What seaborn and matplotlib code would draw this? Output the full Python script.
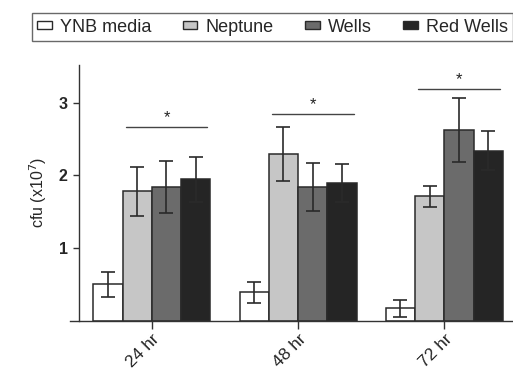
import numpy as np
import pandas as pd
import matplotlib
matplotlib.use("Agg")
import matplotlib.pyplot as plt
import seaborn as sns

times = ["24 hr", "48 hr", "72 hr"]
groups = ["YNB media", "Neptune", "Wells", "Red Wells"]
# mean cfu (x10^7) per group, one value per time point
ynb = [0.50, 0.39, 0.17]
neptune = [1.78, 2.29, 1.71]
wells = [1.84, 1.84, 2.62]
red_wells = [1.95, 1.90, 2.34]
# error bar half-lengths
ynb_err = [0.17, 0.14, 0.12]
neptune_err = [0.34, 0.37, 0.14]
wells_err = [0.36, 0.33, 0.44]
red_wells_err = [0.31, 0.26, 0.27]
# significance bar heights
sig_heights = [2.67, 2.85, 3.19]

colors = ["#ffffff", "#c6c6c6", "#6b6b6b", "#252525"]

sns.set_style("ticks")
plt.rcParams["font.family"] = ["Liberation Sans", "DejaVu Sans"]

means = [ynb, neptune, wells, red_wells]
errs = [ynb_err, neptune_err, wells_err, red_wells_err]
df = pd.DataFrame({
    "time": np.tile(times, len(groups)),
    "group": np.repeat(groups, len(times)),
    "cfu": np.concatenate(means),
})

fig = plt.figure(figsize=(5.13, 3.75), dpi=100)
ax = fig.add_axes([70 / 513, 1 - 320.7 / 375, 443 / 513, (320.7 - 65) / 375])

sns.barplot(data=df, x="time", y="cfu", hue="group", hue_order=groups,
            order=times, palette=colors, errorbar=None, width=0.8,
            edgecolor="#2a2a2a", linewidth=1.1, ax=ax)

for cont, err in zip(ax.containers, errs):
    xs = [p.get_x() + p.get_width() / 2 for p in cont.patches]
    ys = [p.get_height() for p in cont.patches]
    ax.errorbar(xs, ys, yerr=err, fmt="none", ecolor="#2a2a2a",
                elinewidth=1.2, capsize=5, capthick=1.2, zorder=3)

for i, h in enumerate(sig_heights):
    ax.plot([i - 0.18, i + 0.38], [h, h], color="#444444", lw=1.0)
    ax.text(i + 0.1, h + 0.02, "*", ha="center", va="bottom", fontsize=12,
            color="#222222")

ax.set_xlim(-0.56, 2.47)
ax.set_ylim(0, 3.52)
ax.spines["left"].set_position(("data", -0.5))
ax.spines["top"].set_visible(False)
ax.spines["right"].set_visible(False)
for s in ["left", "bottom"]:
    ax.spines[s].set_color("#333333")
    ax.spines[s].set_linewidth(1.0)

ax.set_yticks([1, 2, 3])
ax.set_yticklabels(["1", "2", "3"], fontsize=11.5, fontweight="bold")
ax.tick_params(axis="y", length=4, width=1, color="#333333", pad=4)
ax.tick_params(axis="x", length=6, width=1, color="#333333", pad=2)
ax.set_xticks(range(len(times)))
ax.set_xticklabels(times, rotation=45, ha="right", rotation_mode="anchor",
                   fontsize=12.5)
ax.set_xlabel("")
ax.set_ylabel("cfu (x10$^7$)", fontsize=11.5, labelpad=7)

ax.legend(loc="center", bbox_to_anchor=(272.5 / 513, 1 - 27 / 375),
          bbox_transform=fig.transFigure,
          ncol=4, fontsize=13, frameon=True, fancybox=False,
          edgecolor="#444444", handlelength=0.8, handleheight=0.38,
          handletextpad=0.45, columnspacing=1.75, borderpad=0.3,
          borderaxespad=0)
leg = ax.get_legend()
leg.get_frame().set_linewidth(1.0)
for h in leg.legend_handles:
    h.set_linewidth(1.0)

fig.savefig("out.png", dpi=100)
